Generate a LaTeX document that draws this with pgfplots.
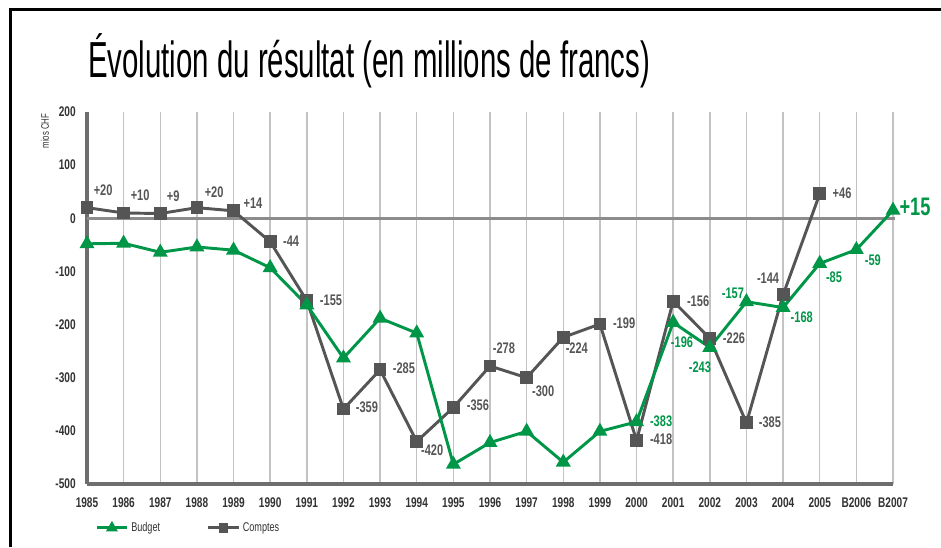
\documentclass[border=0pt]{standalone}
\usepackage{fontspec}
\setmainfont{Liberation Sans}[FakeStretch=0.72]
\newfontfamily\titlefont{Liberation Sans}[FakeStretch=0.58]
\usepackage{pgfplots}
\pgfplotsset{compat=1.18}
\definecolor{bgreen}{RGB}{0,150,72}
\definecolor{cgrey}{RGB}{85,85,85}
\definecolor{axgrey}{RGB}{110,110,110}
\definecolor{zgrey}{RGB}{140,140,140}
\definecolor{ggrey}{RGB}{195,195,195}
\definecolor{tgrey}{RGB}{50,50,50}
\begin{document}
\begin{tikzpicture}[
  lab/.style={font=\fontsize{11.5}{13}\selectfont\bfseries, text=cgrey, inner sep=0pt},
  glab/.style={font=\fontsize{11.5}{13}\selectfont\bfseries, text=bgreen, inner sep=0pt}]
\useasboundingbox (0,0) rectangle (705.75pt,410.25pt);
\draw[line width=2.25pt,black] (7.5pt,0pt) -- (7.5pt,402.75pt) -- (706pt,402.75pt);
\node[anchor=base west,inner sep=0pt,font=\titlefont\fontsize{38}{44}\selectfont] at (66pt,351.75pt) {Évolution du résultat (en millions de francs)};
\node[rotate=90,inner sep=0pt,font=\fontsize{8.2}{9}\selectfont,text=tgrey] at (33.75pt,312pt) {mios CHF};
\begin{axis}[
  at={(65.25pt,47.25pt)}, anchor=south west,
  scale only axis, width=604.5pt, height=279pt,
  xmin=0, xmax=22, ymin=-500, ymax=200,
  clip=false,
  axis lines*=left,
  axis line style={-, line width=2.5pt, axgrey},
  xtick={0,...,22},
  xticklabels={1985,1986,1987,1988,1989,1990,1991,1992,1993,1994,1995,1996,1997,1998,1999,2000,2001,2002,2003,2004,2005,B2006,B2007},
  ytick={-500,-400,...,200},
  major tick length=0pt,
  xmajorgrids,
  grid style={ggrey, line width=1.1pt},
  /pgf/number format/assume math mode=true,
  ticklabel style={font=\fontsize{10.5}{12}\selectfont\bfseries, text=tgrey},
  xticklabel style={yshift=-7pt},
  yticklabel style={xshift=-5pt},
  legend columns=2,
  legend style={draw=none, fill=none, at={(0.005,-0.118)}, anchor=west,
    font=\fontsize{9.5}{11}\selectfont, text=tgrey,
    /tikz/every even column/.append style={column sep=33pt}},
  legend image code/.code={\draw[mark repeat=2,mark phase=2,#1] plot coordinates {(0cm,0cm) (0.4cm,0cm) (0.8cm,0cm)};},
]
\draw[zgrey, line width=2.5pt] (axis cs:0,0) -- (axis cs:22.05,0);
\addlegendimage{bgreen, line width=2.2pt, mark=triangle*, mark size=3pt, mark options={solid}}
\addlegendentry{Budget}
\addlegendimage{cgrey, line width=2.2pt, mark=square*, mark size=2.6pt, mark options={solid}}
\addlegendentry{Comptes}
\addplot[cgrey, line width=2.2pt, mark=square*, mark size=3.7pt, forget plot] coordinates {
(0,20)(1,10)(2,9)(3,20)(4,14)(5,-44)(6,-155)(7,-359)(8,-285)(9,-420)(10,-356)
(11,-278)(12,-300)(13,-224)(14,-199)(15,-418)(16,-156)(17,-226)(18,-385)(19,-144)(20,46)};
\addplot[bgreen, line width=2.2pt, mark=triangle*, mark size=4.3pt, forget plot] coordinates {
(0,-48)(1,-47)(2,-64)(3,-54)(4,-60)(5,-93)(6,-163)(7,-263)(8,-188)(9,-216)(10,-463)
(11,-422)(12,-401)(13,-459)(14,-401)(15,-383)(16,-196)(17,-243)(18,-157)(19,-168)
(20,-85)(21,-59)(22,15)};
\node[lab] at (axis cs:0.44,53) {+20};
\node[lab] at (axis cs:1.45,44) {+10};
\node[lab] at (axis cs:2.35,42) {+9};
\node[lab] at (axis cs:3.47,49) {+20};
\node[lab] at (axis cs:4.53,29) {+14};
\node[lab] at (axis cs:5.57,-43) {-44};
\node[lab] at (axis cs:6.66,-154) {-155};
\node[lab] at (axis cs:7.64,-355) {-359};
\node[lab] at (axis cs:8.65,-282) {-285};
\node[lab] at (axis cs:9.42,-436) {-420};
\node[lab] at (axis cs:10.67,-351) {-356};
\node[lab] at (axis cs:11.38,-244) {-278};
\node[lab] at (axis cs:12.45,-325) {-300};
\node[lab] at (axis cs:13.37,-244) {-224};
\node[lab] at (axis cs:14.66,-197) {-199};
\node[lab] at (axis cs:15.67,-415) {-418};
\node[lab] at (axis cs:16.68,-156) {-156};
\node[lab] at (axis cs:17.66,-225) {-226};
\node[lab] at (axis cs:18.64,-383) {-385};
\node[lab] at (axis cs:18.59,-112) {-144};
\node[lab] at (axis cs:20.61,48) {+46};
\node[glab] at (axis cs:15.67,-381) {-383};
\node[glab] at (axis cs:16.24,-233) {-196};
\node[glab] at (axis cs:16.73,-280) {-243};
\node[glab] at (axis cs:17.63,-141) {-157};
\node[glab] at (axis cs:19.51,-186) {-168};
\node[glab] at (axis cs:20.39,-110) {-85};
\node[glab] at (axis cs:21.45,-78) {-59};
\node[glab, font=\fontsize{19}{21}\selectfont\bfseries] at (axis cs:22.6,22) {+15};
\end{axis}
\end{tikzpicture}
\end{document}
